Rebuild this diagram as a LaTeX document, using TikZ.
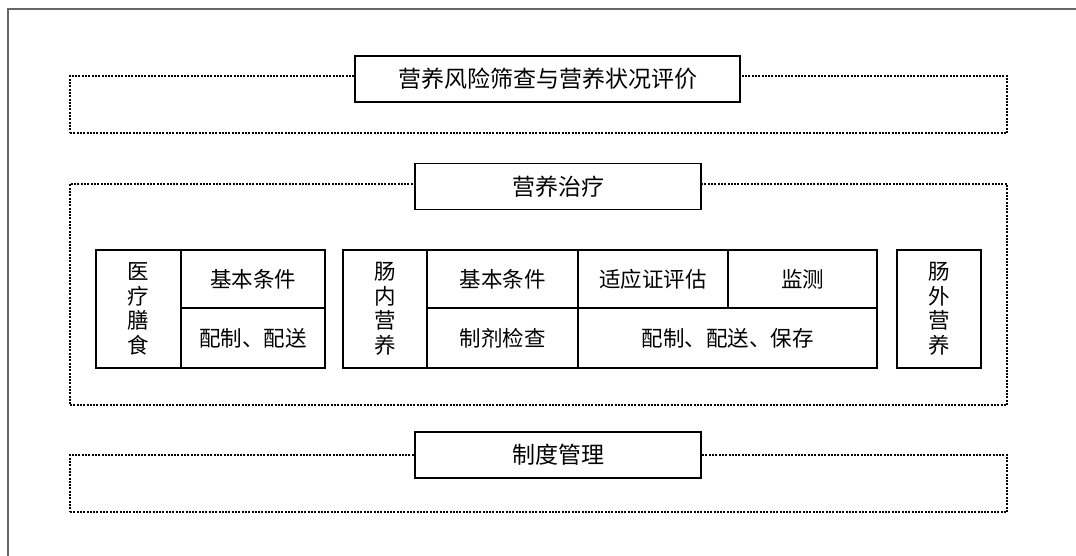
\documentclass[tikz,border=0pt]{standalone}
\usepackage{fontspec}
\setmainfont{Noto Sans CJK SC}
\usetikzlibrary{positioning}
\tikzset{zone/.style = {draw, line width = 1.8, dash pattern = on 2pt off 1.3pt,
                        inner sep = 0, outer sep = 0}}
\tikzset{title/.style = {draw, fill = white, line width = 1.6, inner sep = 0, outer sep = 0,
                         minimum height = 46, font = \fontsize{23}{26}\selectfont}}
\tikzset{cell/.style = {draw, line width = 1.5, inner sep = 0, outer sep = 0,
                        font = \fontsize{21.5}{25}\selectfont}}
\tikzset{tall/.style = {cell, align = center, minimum height = 118,
                        font = \fontsize{21.5}{24.5}\selectfont}}
\definecolor{frame}{rgb}{0.4, 0.4, 0.4}

\begin{document}
\begin{tikzpicture}[x = 1pt, y = -1pt]
      \useasboundingbox (0, 0) rectangle (1076, 556);
      \draw [frame, line width = 1.5] (8, 556) -- (8, 9) -- (1076, 9);
      % three dotted zones
      \node [zone, minimum width = 937, minimum height = 57] (screen) at (538.5, 104.5) {};
      \node [zone, minimum width = 937, minimum height = 221] (therapy) at (538.5, 294.5) {};
      \node [zone, minimum width = 937, minimum height = 57] (rules) at (538.5, 483.5) {};
      \node [title, minimum width = 385] (screentitle) at (547.5, 79) {营养风险筛查与营养状况评价};
      \node [title, minimum width = 286] (therapytitle) at (558, 186.5) {营养治疗};
      \node [title, minimum width = 286] (rulestitle) at (558, 455) {制度管理};
      % medical diet
      \node [tall, minimum width = 85] (diet) at (138.5, 309) {医\\疗\\膳\\食};
      \node [cell, minimum width = 144, minimum height = 58] (dietbase) at (253, 279) {基本条件};
      \node [cell, minimum width = 144, minimum height = 60] (dietprep) at (253, 338) {配制、配送};
      % enteral nutrition
      \node [tall, minimum width = 84] (enteral) at (385, 309) {肠\\内\\营\\养};
      \node [cell, minimum width = 151, minimum height = 58] (entbase) at (502.5, 279) {基本条件};
      \node [cell, minimum width = 151, minimum height = 60] (entcheck) at (502.5, 338) {制剂检查};
      \node [cell, minimum width = 150, minimum height = 58] (entindic) at (653, 279) {适应证评估};
      \node [cell, minimum width = 149, minimum height = 58] (entwatch) at (802.5, 279) {监测};
      \node [cell, minimum width = 299, minimum height = 60] (entprep) at (727.5, 338) {配制、配送、保存};
      % parenteral nutrition
      \node [tall, minimum width = 84] (parenteral) at (939, 309) {肠\\外\\营\\养};
    \end{tikzpicture}
\end{document}
